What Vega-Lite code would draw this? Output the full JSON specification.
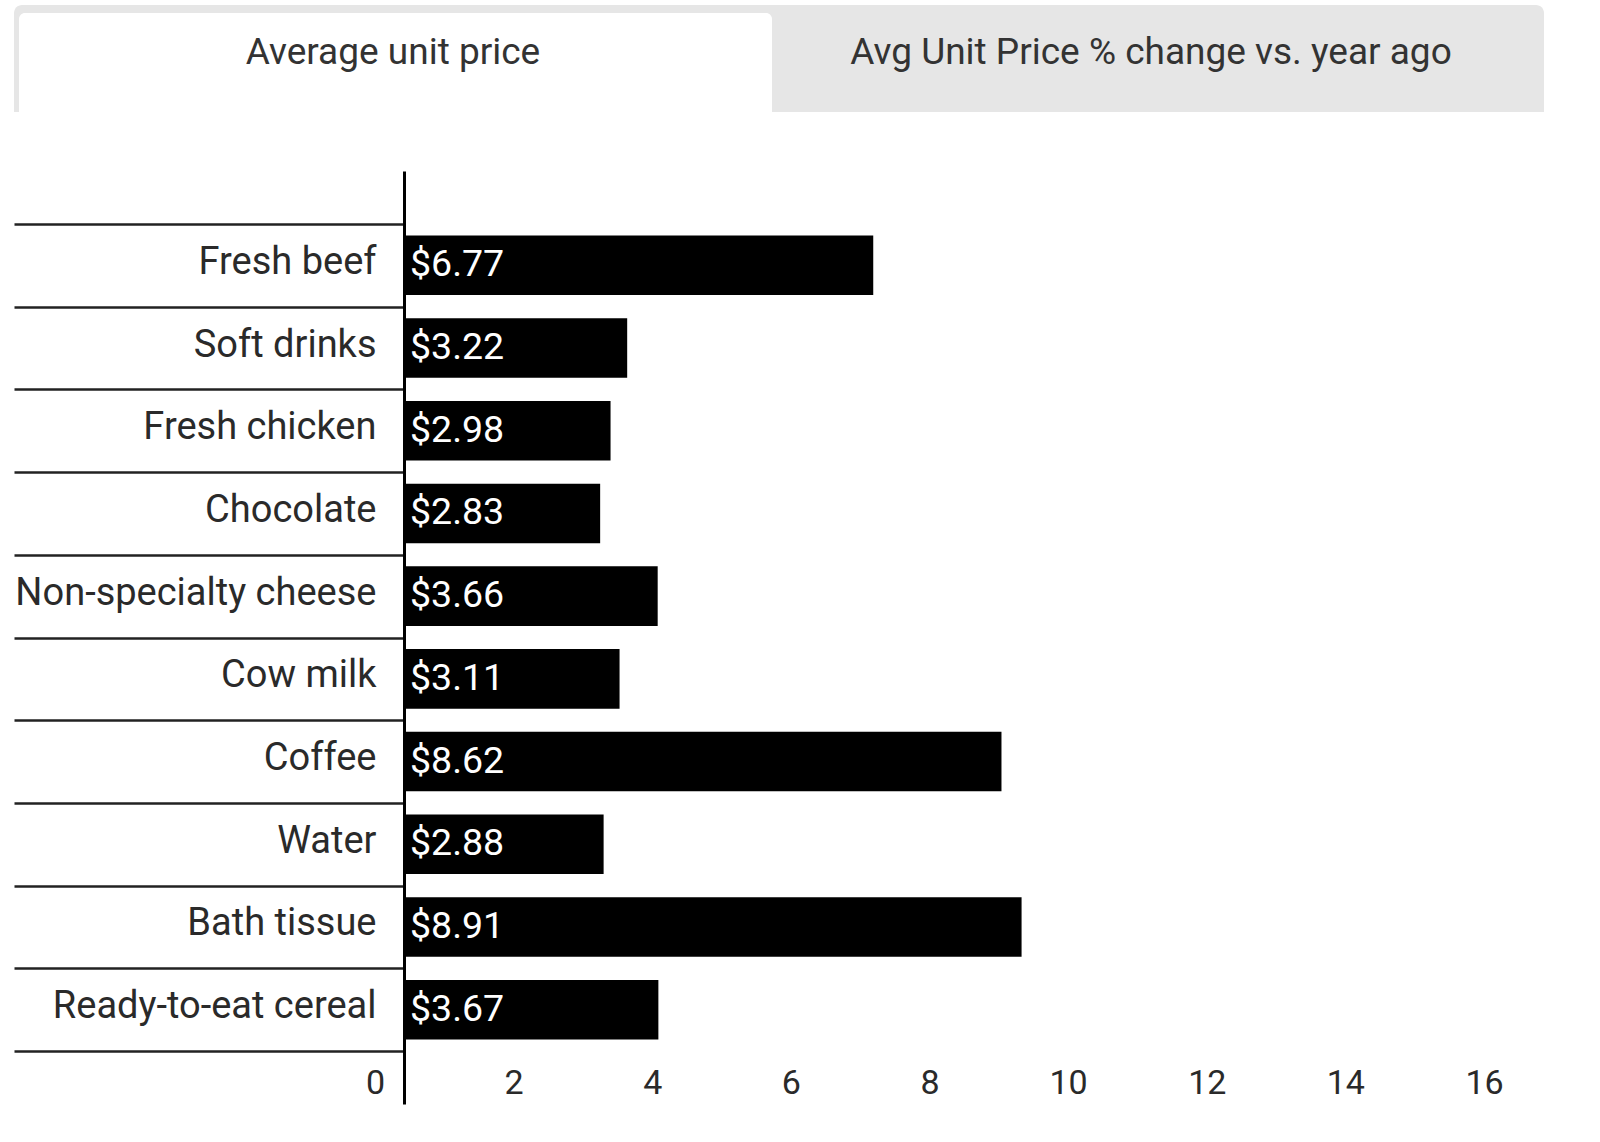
{
  "$schema": "https://vega.github.io/schema/vega-lite/v6.json",
  "padding": {"left": 12, "top": 5, "right": 10, "bottom": 10},
  "background": "white",
  "config": {"view": {"stroke": null}, "font": "Roboto"},
  "datasets": {
    "tabs": [
      {"tab": "Average unit price", "active": true},
      {"tab": "Avg Unit Price % change vs. year ago", "active": false}
    ],
    "prices": [
      {"item": "Fresh beef", "price": 6.77},
      {"item": "Soft drinks", "price": 3.22},
      {"item": "Fresh chicken", "price": 2.98},
      {"item": "Chocolate", "price": 2.83},
      {"item": "Non-specialty cheese", "price": 3.66},
      {"item": "Cow milk", "price": 3.11},
      {"item": "Coffee", "price": 8.62},
      {"item": "Water", "price": 2.88},
      {"item": "Bath tissue", "price": 8.91},
      {"item": "Ready-to-eat cereal", "price": 3.67}
    ]
  },
  "spacing": 40,
  "resolve": {"scale": {"x": "independent", "y": "independent"}},
  "vconcat": [
    {
      "width": 1109,
      "height": 107,
      "data": {"name": "tabs"},
      "encoding": {
        "x": {"field": "tab", "type": "nominal", "sort": null, "axis": null,
              "scale": {"range": [-390, 1126], "paddingInner": 0, "paddingOuter": 0}}
      },
      "layer": [
        {"transform": [{"filter": "datum.active"}],
         "mark": {"type": "rect", "fill": "#e6e6e6", "cornerRadiusTopLeft": 8}},
        {"transform": [{"filter": "!datum.active"}],
         "mark": {"type": "rect", "fill": "#e6e6e6", "cornerRadiusTopRight": 8,
                  "width": {"band": 1.0185}, "xOffset": 7}},
        {"transform": [{"filter": "datum.active"}],
         "mark": {"type": "rect", "fill": "white", "xOffset": 2.5, "yOffset": 8, "width": {"band": 0.9934},
                  "cornerRadiusTopLeft": 6, "cornerRadiusTopRight": 6}},
        {"mark": {"type": "text", "fontSize": 37, "color": "#333", "dy": -6, "baseline": "middle"},
         "encoding": {"text": {"field": "tab", "type": "nominal"}}}
      ]
    },
    {
      "width": 1109,
      "height": 933,
      "data": {"name": "prices"},
      "encoding": {
        "y": {"field": "item", "type": "nominal", "sort": null,
              "scale": {"paddingInner": 0, "paddingOuter": 0.64},
              "axis": {"title": null, "domainColor": "#000", "domainWidth": 3, "domainCap": "butt",
                       "ticks": true, "tickBand": "extent", "tickSize": 390, "tickColor": "#222", "tickWidth": 2.5,
                       "labelPadding": -362, "labelFontSize": 38, "labelColor": "#2a2a2a", "labelLimit": 400,
                       "labelOffset": -3,
                       "labelFont": "Roboto", "grid": false, "zindex": 1}}
      },
      "layer": [
        {"mark": {"type": "bar", "color": "#000", "height": {"band": 0.72}},
         "encoding": {
           "x": {"field": "price", "type": "quantitative",
                 "scale": {"domain": [0, 16], "nice": false},
                 "axis": {"title": null, "values": [0, 2, 4, 6, 8, 10, 12, 14, 16], "format": "d",
                          "domain": false, "ticks": false,
                          "grid": false, "labelFontSize": 34, "labelColor": "#2a2a2a", "labelPadding": -38,
                          "labelOffset": -29, "labelFlush": false, "labelOverlap": false,
                          "labelFont": "Roboto"}}
         }},
        {"mark": {"type": "text", "align": "left", "baseline": "middle", "dx": 6, "fontSize": 37.5, "color": "#fff"},
         "encoding": {
           "x": {"datum": 0, "type": "quantitative"},
           "text": {"field": "price", "type": "quantitative", "format": "$.2f"}
         }}
      ]
    }
  ]
}
